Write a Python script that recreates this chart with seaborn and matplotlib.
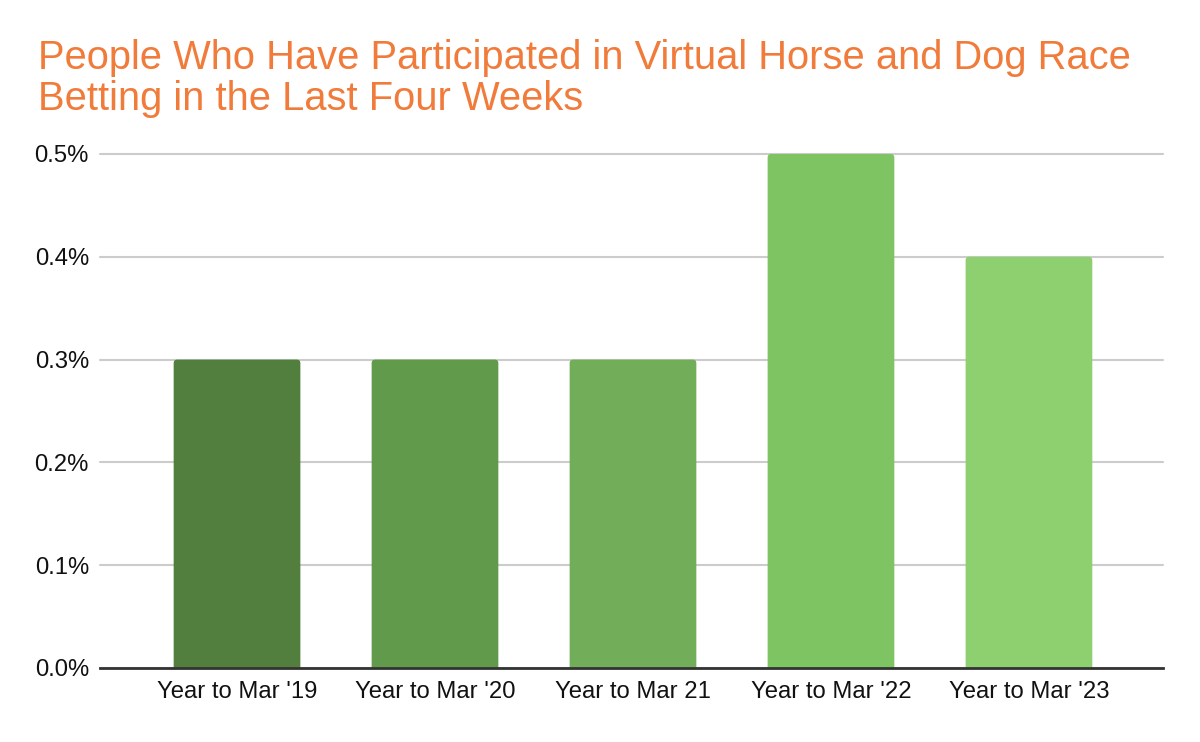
import matplotlib
matplotlib.use("Agg")
import matplotlib.pyplot as plt
import seaborn as sns
import pandas as pd
from matplotlib.patches import FancyBboxPatch
from matplotlib.ticker import FuncFormatter

categories = ["Year to Mar '19", "Year to Mar '20", "Year to Mar 21", "Year to Mar '22", "Year to Mar '23"]
values = [0.3, 0.3, 0.3, 0.5, 0.4]
bar_colors = ["#527F3E", "#619A4A", "#72AD59", "#7FC463", "#8ECF70"]
y_ticks = [0.0, 0.1, 0.2, 0.3, 0.4, 0.5]
title = "People Who Have Participated in Virtual Horse and Dog Race\nBetting in the Last Four Weeks"

sns.set_theme(style="white")
plt.rcParams['font.family'] = ['Liberation Sans', 'DejaVu Sans']

df = pd.DataFrame({"cat": categories, "val": values})

fig = plt.figure(figsize=(12, 7.42), dpi=100)
ax = fig.add_axes([100/1200, 1-668/742, (1163-100)/1200, (668-154)/742])

sns.barplot(data=df, x="cat", y="val", hue="cat", palette=bar_colors,
            legend=False, width=0.64, ax=ax, saturation=1, zorder=3)

ax.set_xlim(-0.692, 4.677)
ax.set_ylim(0, 0.5)

# pixel aspect: data-units-per-pixel in y relative to x
fig.canvas.draw()
p0 = ax.transData.transform((0, 0))
p1 = ax.transData.transform((1, 1))
aspect = (p1[0] - p0[0]) / (p1[1] - p0[1])
r = 0.018  # corner radius in x data units
for p in list(ax.patches):
    x, y = p.get_x(), p.get_y()
    w, h = p.get_width(), p.get_height()
    fc = p.get_facecolor()
    p.set_visible(False)
    ry = r * aspect
    rp = FancyBboxPatch((x, y - ry), w, h + ry,
                        boxstyle=f"round,pad=0,rounding_size={r}",
                        mutation_aspect=aspect,
                        facecolor=fc, edgecolor="none", zorder=3)
    ax.add_patch(rp)

ax.set_yticks(y_ticks)
ax.yaxis.set_major_formatter(FuncFormatter(lambda v, _: f"{v:.1f}%"))
ax.grid(axis="y", color="#CCCCCC", linewidth=1.5, zorder=0)
ax.grid(axis="x", visible=False)
for g in ax.get_ygridlines():
    g.set_clip_on(False)
for s in ["top", "right", "left"]:
    ax.spines[s].set_visible(False)
ax.spines["bottom"].set_color("#333333")
ax.spines["bottom"].set_linewidth(2)
ax.spines["bottom"].set_zorder(4)
ax.tick_params(axis="both", length=0, labelsize=17.2, colors="#111111")
ax.tick_params(axis="y", pad=8)
ax.tick_params(axis="x", pad=9)
ax.set_xlabel("")
ax.set_ylabel("")

fig.text(38/1200, 1-39/742, title, fontsize=28.7, color="#F07B3A",
         ha="left", va="top", linespacing=1.1)

fig.savefig("out.png", dpi=100, facecolor="white")
